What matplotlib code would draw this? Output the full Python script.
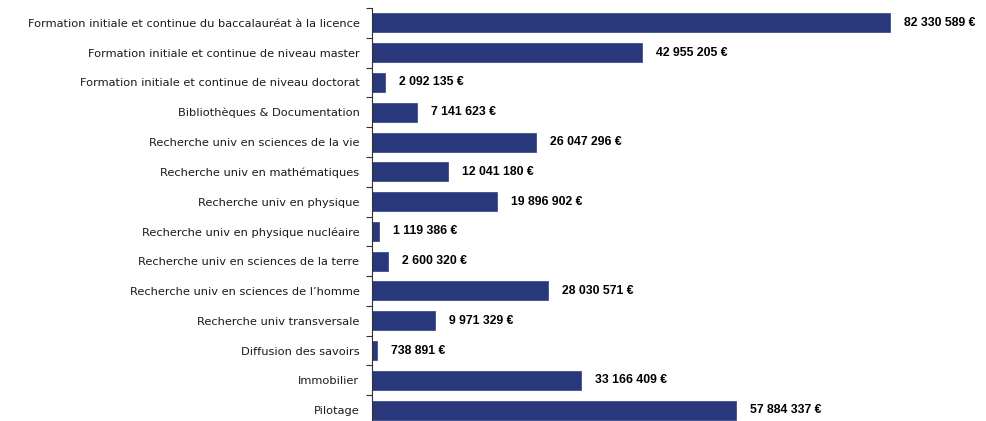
import numpy as np
import matplotlib.pyplot as plt

categories = [
    "Formation initiale et continue du baccalauréat à la licence",
    "Formation initiale et continue de niveau master",
    "Formation initiale et continue de niveau doctorat",
    "Bibliothèques & Documentation",
    "Recherche univ en sciences de la vie",
    "Recherche univ en mathématiques",
    "Recherche univ en physique",
    "Recherche univ en physique nucléaire",
    "Recherche univ en sciences de la terre",
    "Recherche univ en sciences de l’homme",
    "Recherche univ transversale",
    "Diffusion des savoirs",
    "Immobilier",
    "Pilotage",
]
values = [82330589, 42955205, 2092135, 7141623, 26047296, 12041180, 19896902,
          1119386, 2600320, 28030571, 9971329, 738891, 33166409, 57884337]

fig = plt.figure(figsize=(9.87, 4.21), dpi=100)
# axes starts at the vertical axis line (x=372 px), runs off the bottom slightly
ax = fig.add_axes([372 / 987, -4 / 421, 1 - 372 / 987, 417 / 421])

y = np.arange(len(categories))
ax.barh(y, values, height=0.64, color="#29387a", edgecolor="#3f4e8e", linewidth=0.6)

ax.set_ylim(len(categories) - 0.5, -0.5)
ax.set_xlim(0, 615 / 518 * 82330589)

for yi, v in zip(y, values):
    txt = f"{v:,}".replace(",", " ") + " €"
    ax.annotate(txt, (v, yi), xytext=(10, 0), textcoords="offset points",
                ha="left", va="center", fontsize=8.8, fontweight="bold",
                family="Liberation Sans", color="black")

ax.set_yticks(y)
ax.set_yticklabels(categories, family="DejaVu Sans", fontsize=8.2, color="#1a1a1a")
ax.tick_params(axis="y", which="major", length=0, pad=9)
ax.set_yticks(np.arange(-0.5, len(categories), 1), minor=True)
ax.tick_params(axis="y", which="minor", length=4, width=0.8, direction="out", color="#333333")

ax.set_xticks([])
for s in ["top", "right", "bottom"]:
    ax.spines[s].set_visible(False)
ax.spines["left"].set_color("#333333")
ax.spines["left"].set_linewidth(0.8)

fig.savefig("out.png", dpi=100)
